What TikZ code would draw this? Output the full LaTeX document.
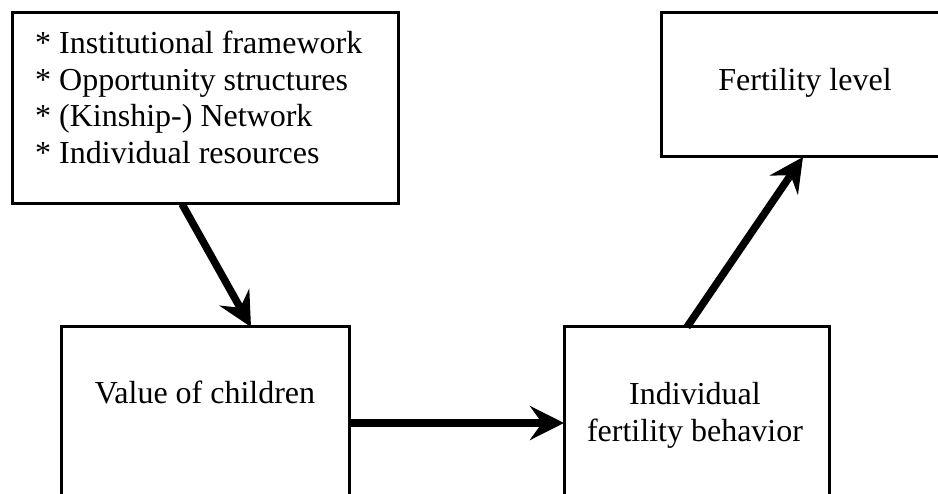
\documentclass[tikz,border=0pt]{standalone}
\usepackage{fontspec}
\setmainfont{Liberation Serif}
\usetikzlibrary{arrows.meta}
\begin{document}
\begin{tikzpicture}[x=1pt,y=-1pt,
  box/.style={draw=black,line width=3pt,rectangle,inner sep=0pt,outer sep=0pt},
  lbl/.style={inner sep=0pt,font=\fontsize{32}{37}\selectfont},
  bigarrow/.style={line width=7.5pt,-{Stealth[length=34pt,width=34pt,inset=12pt]}}]
\useasboundingbox (0,0) rectangle (938,494);
\node[box,minimum width=386pt,minimum height=191pt] (tl) at (205,108.5) {};
\node[box,minimum width=288pt,minimum height=144pt] (tr) at (805,85) {};
\node[box,minimum width=288pt,minimum height=168pt] (bl) at (205,411) {};
\node[box,minimum width=265pt,minimum height=168pt] (br) at (696.5,411) {};
\node[lbl,anchor=base west] (t1) at (35,54) {* Institutional framework};
\node[lbl,anchor=base west] (t2) at (35,90.5) {* Opportunity structures};
\node[lbl,anchor=base west] (t3) at (35,127) {* (Kinship-) Network};
\node[lbl,anchor=base west] (t4) at (35,163.5) {* Individual resources};
\node[lbl,anchor=base] (f) at (805,91) {Fertility level};
\node[lbl,anchor=base] (v) at (205,404) {Value of children};
\node[lbl,anchor=base] (i1) at (695,405) {Individual};
\node[lbl,anchor=base] (i2) at (695,442) {fertility behavior};
\draw[bigarrow] ([xshift=170pt]tl.south west) -- ([xshift=190pt]bl.north west);
\draw[bigarrow] ([yshift=-12pt]bl.east) -- ([yshift=-12pt]br.west);
\draw[bigarrow] ([xshift=123pt]br.north west) -- ([xshift=142pt]tr.south west);
\end{tikzpicture}
\end{document}
